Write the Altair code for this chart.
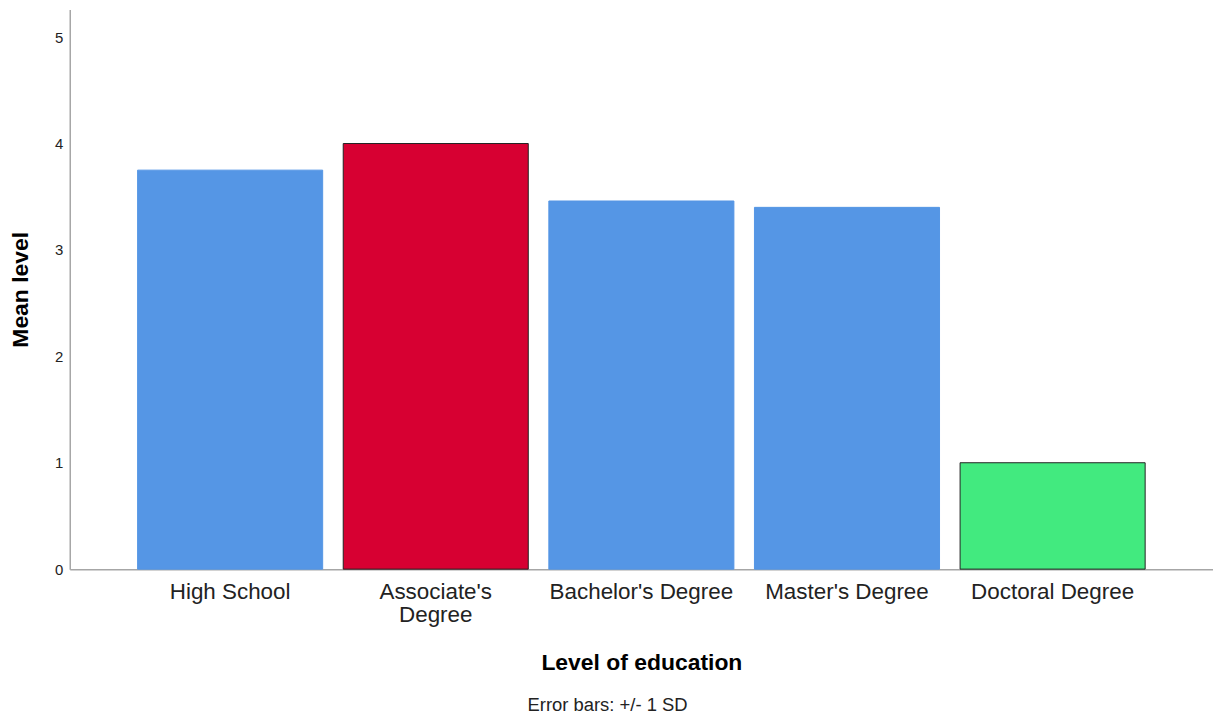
import altair as alt
import pandas as pd

categories = ["High School", "Associate's Degree", "Bachelor's Degree", "Master's Degree", "Doctoral Degree"]
means = [3.75, 4.00, 3.46, 3.40, 1.00]
fill_colors = ["#5596E5", "#D70032", "#5596E5", "#5596E5", "#42EA7F"]
stroke_colors = ["#5596E5", "#222222", "#5596E5", "#5596E5", "#222222"]
y_ticks = [0, 1, 2, 3, 4, 5]

df = pd.DataFrame({"edu": categories, "mean": means})

FONT = "Liberation Sans"

chart = alt.Chart(df).mark_bar(strokeWidth=1).encode(
    x=alt.X(
        "edu:N",
        sort=categories,
        scale=alt.Scale(paddingInner=0.1, paddingOuter=0.33),
        axis=alt.Axis(
            title="Level of education",
            labelAngle=0,
            labelFontSize=22.5,
            labelFont=FONT,
            labelColor="#222222",
            labelPadding=11,
            labelLineHeight=23.5,
            labelLimit=400,
            labelOverlap=False,
            labelExpr="datum.label == \"Associate's Degree\" ? [\"Associate's\", 'Degree'] : datum.label",
            ticks=False,
            tickSize=0,
            domainColor="#a6a6a6",
            domainWidth=1.5,
            titleFont=FONT,
            titleFontSize=23,
            titleFontWeight="bold",
            titleColor="#000000",
            titleY=83,
            titleBaseline="top",
        ),
    ),
    y=alt.Y(
        "mean:Q",
        scale=alt.Scale(domain=[0, 5.26], nice=False, zero=True),
        axis=alt.Axis(
            title="Mean level",
            values=y_ticks,
            format="d",
            grid=False,
            ticks=False,
            tickSize=0,
            labelFontSize=15,
            labelFont=FONT,
            labelColor="#222222",
            labelPadding=7,
            domainColor="#a6a6a6",
            domainWidth=1.5,
            titleFont=FONT,
            titleFontSize=23,
            titleFontWeight="bold",
            titleColor="#000000",
            titlePadding=22,
        ),
    ),
    fill=alt.Fill("edu:N", scale=alt.Scale(domain=categories, range=fill_colors), legend=None),
    stroke=alt.Stroke("edu:N", scale=alt.Scale(domain=categories, range=stroke_colors), legend=None),
).properties(
    width=1148,
    height=562,
    padding={"left": 62, "top": 0, "right": 0, "bottom": 146},
    autosize=alt.AutoSizeParams(type="none"),
    title=alt.TitleParams(
        "Error bars: +/- 1 SD",
        orient="bottom",
        anchor="middle",
        font=FONT,
        fontSize=18.5,
        fontWeight="normal",
        color="#222222",
        offset=21,
        dx=-34,
    ),
).configure(background="white").configure_view(strokeWidth=0, stroke="transparent")

chart.save("out.html", embed_options={"renderer": "svg", "actions": False})
